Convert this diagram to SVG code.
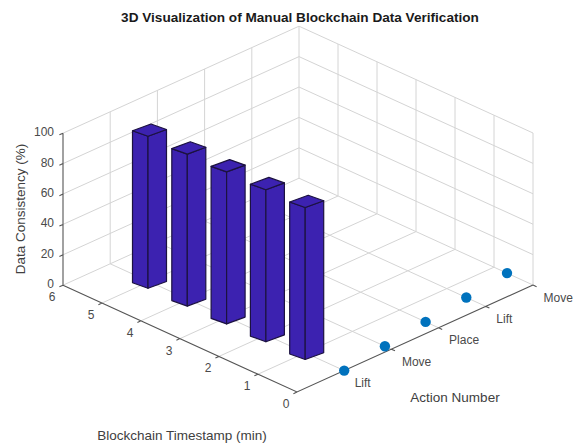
<svg xmlns="http://www.w3.org/2000/svg" xmlns:xlink="http://www.w3.org/1999/xlink" width="577" height="445" viewBox="0 0 577 445">
<style>
text{font-family:"Liberation Sans",Arial,Helvetica,sans-serif;}
.grid{fill:none;stroke:#d4d4d4;stroke-width:1;}
.axis{fill:none;stroke:#555;stroke-width:1.1;}
.tick{font-size:12px;fill:#4a4a4a;}
.lbl{font-size:13.5px;fill:#404040;}
.title{font-size:13.6px;font-weight:bold;fill:#1a1a1a;}
.face{fill:#3c22b0;stroke:#1c1240;stroke-width:1.2;stroke-linejoin:round;}
.dot{fill:#0072bd;}
</style>
<defs>
<g id="bar">
<polygon class="face" points="0,0 -15.5,-5.5 -15.5,-157.5 0,-152"/>
<polygon class="face" points="0,0 18.5,-6.8 18.5,-158.8 0,-152"/>
<polygon class="face" points="0,-152 -15.5,-157.5 3,-164.3 18.5,-158.8"/>
</g>
</defs>
<rect width="577" height="445" fill="#fff"/>
<text class="title" x="300" y="22" text-anchor="middle">3D Visualization of Manual Blockchain Data Verification</text>
<g id="grid">
<path class="grid" d="M110.2 263.8V111.8M157.4 242.4V90.4M204.6 221V69M251.8 199.6V47.6M299 178.2V26.2
M63 254.8L299 147.8M63 224.4L299 117.4M63 194L299 87M63 163.6L299 56.6M63 133.2L299 26.2
M533 285V133M494 267.2V115.2M455 249.4V97.4M416 231.6V79.6M377 213.8V61.8M338 196V44
M299 147.8L533 254.6M299 117.4L533 224.2M299 87L533 193.8M299 56.6L533 163.4M299 26.2L533 133
M344.2 370.6L110.2 263.8M391.4 349.2L157.4 242.4M438.6 327.8L204.6 221M485.8 306.4L251.8 199.6M533 285L299 178.2
M258 374.2L494 267.2M219 356.4L455 249.4M180 338.6L416 231.6M141 320.8L377 213.8M102 303L338 196M63 285.2L299 178.2"/>
</g>
<g id="axes">
<path class="axis" d="M63 285.2V133.2M63 285.2L297 392L533 285
M63 285.2l-3.6 1.65M63 254.8l-3.6 1.65M63 224.4l-3.6 1.65M63 194l-3.6 1.65M63 163.6l-3.6 1.65M63 133.2l-3.6 1.65
M102 303l-3.6 1.65M141 320.8l-3.6 1.65M180 338.6l-3.6 1.65M219 356.4l-3.6 1.65M258 374.2l-3.6 1.65M297 392l-3.6 1.65
M344.2 370.6l3.6 1.66M391.4 349.2l3.6 1.66M438.6 327.8l3.6 1.66M485.8 306.4l3.6 1.66M533 285l3.6 1.66"/>
<g class="tick" text-anchor="end">
<text x="54" y="288.2">0</text>
<text x="54" y="257.8">20</text>
<text x="54" y="227.4">40</text>
<text x="54" y="197">60</text>
<text x="54" y="166.6">80</text>
<text x="54" y="136.2">100</text>
</g>
<g class="tick" text-anchor="middle">
<text x="52" y="301.2">6</text>
<text x="91" y="319">5</text>
<text x="130" y="336.8">4</text>
<text x="169" y="354.6">3</text>
<text x="208" y="372.4">2</text>
<text x="247" y="390.2">1</text>
<text x="286" y="408">0</text>
</g>
<g class="tick">
<text x="354.7" y="387.1">Lift</text>
<text x="401.9" y="365.7">Move</text>
<text x="449.1" y="344.3">Place</text>
<text x="496.3" y="322.9">Lift</text>
<text x="543.5" y="301.5">Move</text>
</g>
<text class="lbl" x="182" y="439.5" text-anchor="middle">Blockchain Timestamp (min)</text>
<text class="lbl" x="455" y="402" text-anchor="middle">Action Number</text>
<text class="lbl" transform="translate(25 209) rotate(-90)" text-anchor="middle">Data Consistency (%)</text>
</g>
<g id="bars">
<g id="bar1"><use xlink:href="#bar" href="#bar" x="148" y="288.3"/></g>
<g id="bar2"><use xlink:href="#bar" href="#bar" x="187.3" y="306.1"/></g>
<g id="bar3"><use xlink:href="#bar" href="#bar" x="226.6" y="323.9"/></g>
<g id="bar4"><use xlink:href="#bar" href="#bar" x="265.9" y="341.7"/></g>
<g id="bar5"><use xlink:href="#bar" href="#bar" x="305.2" y="359.5"/></g>
</g>
<g id="points">
<circle class="dot" cx="344.2" cy="370.6" r="5.2"/>
<circle class="dot" cx="384.9" cy="346.2" r="5.2"/>
<circle class="dot" cx="425.6" cy="321.9" r="5.2"/>
<circle class="dot" cx="466.3" cy="297.5" r="5.2"/>
<circle class="dot" cx="507" cy="273.1" r="5.2"/>
</g>
</svg>
